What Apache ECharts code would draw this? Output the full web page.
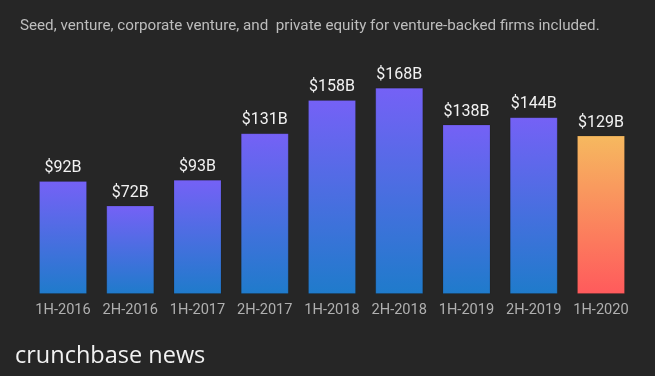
<!DOCTYPE html>
<html><head><meta charset="utf-8">
<script src="https://cdn.jsdelivr.net/npm/echarts@6/dist/echarts.min.js"></script>
<style>html,body{margin:0;padding:0;background:#262626;}#c{width:655px;height:376px;}</style>
</head><body><div id="c"></div>
<script>
const categories = ['1H-2016','2H-2016','1H-2017','2H-2017','1H-2018','2H-2018','1H-2019','2H-2019','1H-2020'];
const values = [92, 72, 93, 131, 158, 168, 138, 144, 129];
const highlightIndex = 8;

const blueGrad = new echarts.graphic.LinearGradient(0,0,0,1,[{offset:0,color:'#7561f6'},{offset:1,color:'#1f7bcb'}]);
const orangeGrad = new echarts.graphic.LinearGradient(0,0,0,1,[{offset:0,color:'#f6b95f'},{offset:1,color:'#ff5a5c'}]);

const chart = echarts.init(document.getElementById('c'));
chart.setOption({
  backgroundColor:'#262626',
  animation:false,
  graphic:[
    {type:'text',x:20,y:26,style:{text:'Seed, venture, corporate venture, and  private equity for venture-backed firms included.',fill:'#bdbdbd',font:'15.2px Roboto',textVerticalAlign:'middle'}},
    {type:'text',x:15,y:356,style:{text:'crunchbase news',fill:'#f2f2f2',font:'500 23.5px "Open Sans"',textVerticalAlign:'middle'}}
  ],
  grid:{left:29.4,right:20.4,top:48.4,bottom:82},
  xAxis:{type:'category',data:categories,axisLine:{show:false},axisTick:{show:false},
    axisLabel:{color:'#b0b0b0',fontSize:14.6,fontFamily:'Roboto',margin:9,interval:0}},
  yAxis:{type:'value',min:0,max:200,show:false,splitLine:{show:false}},
  series:[{type:'bar',barWidth:48,
    data:values.map((v,i)=>({value:v,itemStyle:{color:i===highlightIndex?orangeGrad:blueGrad,borderColor:'rgba(0,0,0,0.12)',borderWidth:1}})),
    label:{show:true,position:'top',distance:5,color:'#f2f2f2',fontSize:16,fontFamily:'Roboto',formatter:p=>'$'+p.value+'B'}
  }]
});
</script></body></html>
